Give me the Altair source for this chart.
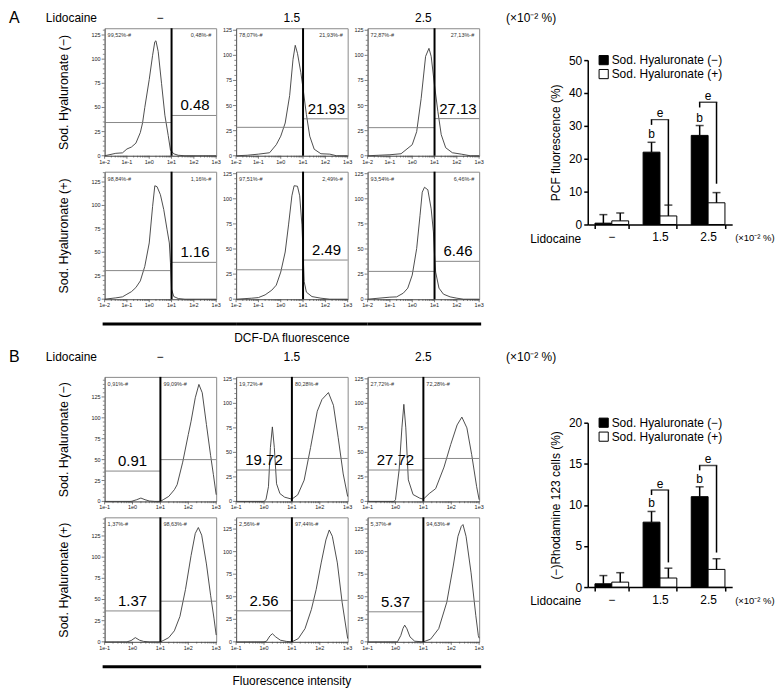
import math
import altair as alt
import pandas as pd

FONT = "Liberation Sans"
MINUS = "\u2212"
S_NEG = "Sod. Hyaluronate (\u2212)"
S_POS = "Sod. Hyaluronate (+)"
LIDO = [MINUS, "1.5", "2.5"]
UNIT = "(\u00d710\u207b\u00b2 %)"

# ---------------- Panel A: DCF-DA histograms (x = log10 fluorescence, y = count)
A1_X = [-2.0, -1.5, -1.2, -1.0, -0.8, -0.6, -0.4, -0.3, -0.2, 0.0, 0.15, 0.25, 0.3, 0.4, 0.55, 0.7, 0.85, 0.95, 1.1, 1.3, 1.6, 2.0, 3.0]
A1_Y = [0, 2.5, 3, 7, 9, 13, 24, 34, 50, 79, 104, 118, 119, 108, 75, 42, 21, 6, 2, 0.5, 0, 0, 0]
A2_X = [-2.0, -1.5, -1.0, -0.5, -0.2, 0.0, 0.2, 0.4, 0.55, 0.65, 0.75, 0.9, 1.0, 1.15, 1.3, 1.5, 1.8, 2.2, 2.5, 3.0]
A2_Y = [0, 0.5, 1.6, 3, 11, 19.5, 32.6, 60, 96, 110, 102, 83, 67, 41, 19.5, 6.5, 2, 1.6, 0, 0]
A3_X = [-2.0, -1.5, -1.0, -0.5, 0.0, 0.2, 0.4, 0.6, 0.75, 0.85, 1.0, 1.15, 1.3, 1.5, 1.8, 2.2, 2.6, 3.0]
A3_Y = [0, 0.5, 1, 2, 11, 24, 57, 99, 107, 99, 70, 44, 21, 8, 3, 1.6, 0, 0]
A4_X = [-2.0, -1.5, -1.2, -1.0, -0.8, -0.6, -0.4, -0.2, 0.0, 0.15, 0.25, 0.35, 0.5, 0.65, 0.8, 0.9, 0.95, 1.0, 1.1, 1.3, 1.6, 3.0]
A4_Y = [0, 1.4, 2.5, 5.3, 8, 12.4, 19.5, 35, 60, 99, 121, 120, 111.5, 95.6, 74, 60, 39, 10.6, 2.8, 0.7, 0, 0]
A5_X = [-2.0, -1.3, -1.0, -0.7, -0.4, -0.2, 0.0, 0.2, 0.35, 0.5, 0.6, 0.75, 0.85, 0.95, 1.0, 1.05, 1.15, 1.4, 1.8, 2.2, 3.0]
A5_Y = [0, 1, 1.6, 4.3, 9, 14, 27, 47, 74, 103, 113, 112.5, 103, 74, 47, 17.5, 7, 2.6, 1, 0, 0]
A6_X = [-2.0, -1.0, -0.7, -0.4, -0.2, 0.0, 0.2, 0.35, 0.45, 0.55, 0.7, 0.85, 0.95, 1.0, 1.05, 1.2, 1.4, 1.7, 2.0, 2.3, 3.0]
A6_Y = [0, 2, 2.3, 6, 11, 24, 50.5, 83.5, 106.6, 111.5, 109, 90, 67, 44, 27, 11, 5, 2.3, 1, 0, 0]
A_YMAX = [132, 127, 127, 136, 127, 127]
A_GATE_LEFT = [34.4, 28.3, 28.0, 30.5, 29.3, 27.7]
A_GATE_RIGHT = [41.7, 36.8, 37.0, 39.3, 39.0, 37.7]
A_BIG = ["0.48", "21.93", "27.13", "1.16", "2.49", "6.46"]
A_PCT_LEFT = ["99,52%-#", "78,07%-#", "72,87%-#", "98,84%-#", "97,51%-#", "93,54%-#"]
A_PCT_RIGHT = ["0,48%-#", "21,93%-#", "27,13%-#", "1,16%-#", "2,49%-#", "6,46%-#"]

# ---------------- Panel B: Rhodamine 123 histograms
B1_X = [-1.0, -0.05, 0.0, 0.15, 0.3, 0.45, 0.6, 0.8, 1.0, 1.1, 1.3, 1.5, 1.6, 1.8, 2.0, 2.1, 2.25, 2.38, 2.5, 2.65, 2.8, 2.9, 3.0]
B1_Y = [0, 0, 0.5, 2, 4, 2, 0.5, 0, 0, 2, 6, 14, 20, 47, 80, 96, 124, 140, 130, 92, 55, 32, 8]
B2_X = [-1.0, 0.0, 0.07, 0.16, 0.23, 0.30, 0.37, 0.45, 0.57, 0.74, 1.0, 1.21, 1.44, 1.67, 1.91, 2.08, 2.31, 2.49, 2.66, 2.84, 3.0]
B2_Y = [0, 0, 1.7, 15, 55, 76, 55, 18, 8, 4.3, 2.3, 6.7, 21.7, 55, 92, 104, 111, 98, 65, 28, 5]
B3_X = [-1.0, -0.05, 0.0, 0.13, 0.23, 0.30, 0.37, 0.46, 0.63, 0.87, 1.0, 1.21, 1.44, 1.74, 1.98, 2.21, 2.38, 2.56, 2.73, 2.91, 3.0]
B3_Y = [0, 0, 1.7, 32, 75, 99, 75, 22, 7, 3.3, 2.3, 8, 13, 35, 58, 78, 86, 75, 48, 15, 1.7]
B4_X = [-1.0, -0.2, -0.05, 0.1, 0.25, 0.4, 0.6, 1.0, 1.1, 1.3, 1.5, 1.7, 1.9, 2.1, 2.25, 2.36, 2.48, 2.65, 2.8, 2.92, 3.0]
B4_Y = [0, 0, 1.5, 5, 2, 0.5, 0, 0, 1.5, 5, 13, 30, 62, 102, 128, 135, 126, 92, 55, 28, 8]
B5_X = [-1.0, 0.0, 0.09, 0.21, 0.30, 0.42, 0.59, 0.8, 1.0, 1.23, 1.47, 1.70, 1.87, 2.05, 2.22, 2.34, 2.45, 2.63, 2.80, 3.0]
B5_Y = [0, 0, 0.7, 6.5, 9, 5.5, 1.8, 0.5, 0, 3.6, 14.6, 36, 58, 87.5, 113, 124, 117, 87.5, 44, 3.6]
B6_X = [-1.0, 0.07, 0.19, 0.27, 0.33, 0.41, 0.52, 0.69, 1.0, 1.26, 1.55, 1.84, 2.07, 2.24, 2.36, 2.42, 2.53, 2.71, 2.88, 2.97, 3.0]
B6_Y = [0, 0, 7, 15, 18.5, 14.5, 5.5, 0.7, 0, 3, 14.6, 44, 84, 117, 128, 130, 117, 76.5, 29, 7, 4]
B_YMAX = [149, 127, 127, 147, 138, 138]
B_GATE_LEFT = [36.3, 32.0, 32.0, 36.5, 34.4, 33.3]
B_GATE_RIGHT = [50.0, 43.8, 43.8, 48.0, 46.0, 45.0]
B_BIG = ["0.91", "19.72", "27.72", "1.37", "2.56", "5.37"]
B_PCT_LEFT = ["0,91%-#", "19,72%-#", "27,72%-#", "1,37%-#", "2,56%-#", "5,37%-#"]
B_PCT_RIGHT = ["99,09%-#", "80,28%-#", "72,28%-#", "98,63%-#", "97,44%-#", "94,63%-#"]

# ---------------- Bar charts
PCF_NEG = [0.4, 22.0, 27.1]
PCF_NEG_ERR = [2.6, 3.0, 3.0]
PCF_POS = [1.1, 2.6, 6.6]
PCF_POS_ERR = [2.4, 3.3, 3.1]
PCF_B_Y = [27.6, 32.3]
PCF_BR_TOP = [31.9, 37.2]
PCF_BR_LEFT = [30.3, 35.6]
PCF_BR_RIGHT = [5.9, 12.4]
PCF_E_Y = [33.9, 39.2]

RHO_NEG = [0.4, 7.9, 11.0]
RHO_NEG_ERR = [1.0, 1.3, 1.2]
RHO_POS = [0.6, 1.1, 2.15]
RHO_POS_ERR = [1.15, 1.2, 1.3]
RHO_B_Y = [10.2, 13.1]
RHO_BR_TOP = [11.8, 14.8]
RHO_BR_LEFT = [11.2, 14.2]
RHO_BR_RIGHT = [3.0, 4.2]
RHO_E_Y = [12.6, 15.6]

GATE = 1.0
XMAX = 3
W = 112
SPC = 20
HA = 128
HB = 125
BW = 145
BH = 165
AXC = "#444"


def label(text, x, y, size=12, align="center", baseline="middle", color="black"):
    return alt.Chart(pd.DataFrame({"t": [text]})).mark_text(
        fontSize=size, align=align, baseline=baseline, color=color
    ).encode(text="t:N", x=alt.value(x), y=alt.value(y))


def hline(x0, x1, y, width):
    return alt.Chart(pd.DataFrame({"t": [0]})).mark_rule(strokeWidth=width, color="black").encode(
        x=alt.value(x0), x2=alt.value(x1), y=alt.value(y))


def hist_panel(xs, ys, xmin, ymax, lvl_l, lvl_r, big, big_left, pct_l, pct_r, H, row_title=None, extras=()):
    xscale = alt.Scale(domain=[xmin, XMAX], nice=False, zero=False)
    yscale = alt.Scale(domain=[0, ymax], nice=False)
    xmajor = list(range(xmin, XMAX + 1))
    xminor = [d + math.log10(k) for d in range(xmin, XMAX) for k in range(2, 10)]
    ymajor = list(range(0, int(ymax) + 1, 25))
    yminor = [v for v in range(5, int(ymax) + 1, 5) if v % 25]
    common = dict(labels=False, ticks=False, domainColor="#555", domainWidth=0.8, grid=False)
    xaxis = alt.Axis(title=None, **common)
    if row_title:
        yaxis = alt.Axis(title=row_title, titleFontSize=12.5, titleFontWeight="normal",
                         titleColor="black", titlePadding=34, **common)
    else:
        yaxis = alt.Axis(title=None, **common)

    curve = alt.Chart(pd.DataFrame({"lx": xs, "cnt": ys})).mark_line(
        color="#3a3a3a", strokeWidth=0.9).encode(
        x=alt.X("lx:Q", scale=xscale, axis=xaxis), y=alt.Y("cnt:Q", scale=yscale, axis=yaxis))
    xt_major = alt.Chart(pd.DataFrame({"lx": xmajor})).mark_rule(color=AXC, strokeWidth=0.7).encode(
        x=alt.X("lx:Q", scale=xscale), y=alt.value(H), y2=alt.value(H + 3))
    xt_minor = alt.Chart(pd.DataFrame({"lx": xminor})).mark_rule(color=AXC, strokeWidth=0.6).encode(
        x=alt.X("lx:Q", scale=xscale), y=alt.value(H), y2=alt.value(H + 1.8))
    xlab = alt.Chart(pd.DataFrame({"lx": xmajor, "t": [f"1e{d}" for d in xmajor]})).mark_text(
        fontSize=5.5, baseline="top", color="#222").encode(
        x=alt.X("lx:Q", scale=xscale), y=alt.value(H + 4), text="t:N")
    yt_major = alt.Chart(pd.DataFrame({"cnt": ymajor})).mark_rule(color=AXC, strokeWidth=0.7).encode(
        y=alt.Y("cnt:Q", scale=yscale), x=alt.value(0), x2=alt.value(-3))
    yt_minor = alt.Chart(pd.DataFrame({"cnt": yminor})).mark_rule(color=AXC, strokeWidth=0.6).encode(
        y=alt.Y("cnt:Q", scale=yscale), x=alt.value(0), x2=alt.value(-1.8))
    ylab = alt.Chart(pd.DataFrame({"cnt": ymajor, "t": [str(v) for v in ymajor]})).mark_text(
        fontSize=5.5, align="right", baseline="middle", color="#222").encode(
        y=alt.Y("cnt:Q", scale=yscale), x=alt.value(-4), text="t:N")
    gates = alt.Chart(pd.DataFrame({"lx": [xmin, GATE], "lx2": [GATE, XMAX], "cnt": [lvl_l, lvl_r]})).mark_rule(
        color="#7a7a7a", strokeWidth=0.9).encode(
        x=alt.X("lx:Q", scale=xscale), x2="lx2:Q", y=alt.Y("cnt:Q", scale=yscale))
    divider = alt.Chart(pd.DataFrame({"lx": [GATE]})).mark_rule(color="black", strokeWidth=2).encode(
        x=alt.X("lx:Q", scale=xscale))
    bx = (xmin + GATE) / 2 if big_left else (GATE + XMAX) / 2 + 0.05
    blvl = lvl_l if big_left else lvl_r
    bignum = alt.Chart(pd.DataFrame({"lx": [bx], "cnt": [blvl], "t": [big]})).mark_text(
        fontSize=15, baseline="bottom", dy=-2, color="black").encode(
        x=alt.X("lx:Q", scale=xscale), y=alt.Y("cnt:Q", scale=yscale), text="t:N")
    pl = label(pct_l, 3, 5, size=5.5, align="left", baseline="top", color="#333")
    if big_left:
        pr = alt.Chart(pd.DataFrame({"lx": [GATE], "t": [pct_r]})).mark_text(
            fontSize=5.5, align="left", baseline="top", dx=3, color="#333").encode(
            x=alt.X("lx:Q", scale=xscale), y=alt.value(5), text="t:N")
    else:
        pr = label(pct_r, W - 5, 5, size=5.5, align="right", baseline="top", color="#333")
    return alt.layer(curve, xt_major, xt_minor, xlab, yt_major, yt_minor, ylab, gates, divider, bignum,
                     pl, pr, *extras).properties(
        width=W, height=H, view=alt.ViewBackground(stroke="#8a8a8a", strokeWidth=1))


def hist_grid(xs_list, ys_list, xmin, ymaxs, gl, gr, bigs, big_left, pls, prs, H, letter, hdr, footer):
    panels = []
    for i in range(6):
        extras = []
        if i == 0:
            extras += [label(letter, -96, hdr, 16, align="left"), label("Lidocaine", -59, hdr, 12, align="left"),
                       label(LIDO[0], W / 2, hdr, 12)]
        if i == 1:
            extras += [label(LIDO[1], W / 2, hdr, 12)]
        if i == 2:
            extras += [label(LIDO[2], W / 2, hdr, 12)]
        if i == 3:
            extras += [hline(-2, W + SPC, H + 25, 3)]
        if i == 4:
            extras += [hline(0, W + SPC, H + 25, 3), label(footer, W / 2, H + 39, 12)]
        if i == 5:
            extras += [hline(0, W + 2, H + 25, 3)]
        row_title = S_NEG if i == 0 else (S_POS if i == 3 else None)
        panels.append(hist_panel(xs_list[i], ys_list[i], xmin, ymaxs[i], gl[i], gr[i], bigs[i], big_left,
                                 pls[i], prs[i], H, row_title, extras))
    return alt.concat(*panels, columns=3, spacing={"row": 16, "column": SPC}, bounds="flush")


def bar_panel(neg, neg_err, pos, pos_err, b_y, br_top, br_left, br_right, e_y, ymax, ystep, ytitle, hdr, gap):
    df = pd.DataFrame({"lido": LIDO + LIDO, "grp": [S_NEG] * 3 + [S_POS] * 3,
                       "val": neg + pos, "err": neg_err + pos_err})
    df["top"] = df["val"] + df["err"]
    xscale = alt.Scale(domain=LIDO, paddingInner=0.3, paddingOuter=0.15)
    oscale = alt.Scale(domain=[S_NEG, S_POS], paddingInner=0, paddingOuter=0)
    yscale = alt.Scale(domain=[0, ymax], nice=False)
    yticks = list(range(0, ymax + 1, ystep))
    xaxis = alt.Axis(labelAngle=0, labelFontSize=12, labelPadding=3, tickBand="extent", tickSize=4,
                     tickWidth=1.5, tickColor="black", domainColor="black", domainWidth=1.5,
                     labelColor="black", labelOverlap=False, title="Lidocaine", titleFontSize=12,
                     titleFontWeight="normal", titleX=-7, titleY=14, titleAlign="right",
                     titleBaseline="middle", titleColor="black")
    yaxis = alt.Axis(values=yticks, tickCount=len(yticks), labelFontSize=12, tickSize=4, tickWidth=1.5,
                     tickColor="black", domainColor="black", domainWidth=1.5, grid=False, labelColor="black",
                     labelOverlap=False, title=ytitle, titleFontSize=12, titleFontWeight="normal",
                     titlePadding=6, titleColor="black", labelPadding=2)
    xo = alt.XOffset("grp:N", scale=oscale)
    xn = alt.X("lido:N", scale=xscale)
    bars = alt.Chart(df).mark_bar(stroke="black", strokeWidth=1).encode(
        x=alt.X("lido:N", scale=xscale, axis=xaxis), xOffset=xo,
        y=alt.Y("val:Q", scale=yscale, axis=yaxis),
        fill=alt.Fill("grp:N", scale=alt.Scale(domain=[S_NEG, S_POS], range=["black", "white"]),
                      legend=alt.Legend(orient="none", legendX=10, legendY=-6, title=None,
                                        symbolType="square", symbolSize=85, symbolStrokeColor="black",
                                        symbolStrokeWidth=1, labelFontSize=12, rowPadding=0,
                                        labelOffset=2, labelColor="black")))
    errs = alt.Chart(df).mark_rule(color="black", strokeWidth=1.5).encode(
        x=xn, xOffset=xo, y=alt.Y("val:Q", scale=yscale), y2="top:Q")
    caps = alt.Chart(df).mark_tick(color="black", thickness=1.5, size=8).encode(
        x=xn, xOffset=xo, y=alt.Y("top:Q", scale=yscale))
    sig = LIDO[1:]
    legs = pd.DataFrame({"lido": sig + sig, "grp": [S_NEG] * 2 + [S_POS] * 2,
                         "y1": br_left + br_right, "y2": br_top + br_top})
    leg_marks = alt.Chart(legs).mark_rule(color="black", strokeWidth=1.5).encode(
        x=xn, xOffset=xo, y=alt.Y("y1:Q", scale=yscale), y2="y2:Q")
    sub = BW / 3 * 0.7 / 2
    tops = alt.Chart(pd.DataFrame({"lido": sig, "y": br_top})).mark_tick(
        color="black", thickness=1.5, size=sub + 1.5).encode(x=xn, y=alt.Y("y:Q", scale=yscale))
    bl = alt.Chart(pd.DataFrame({"lido": sig, "grp": [S_NEG] * 2, "y": b_y, "t": ["b", "b"]})).mark_text(
        fontSize=12, color="black").encode(x=xn, xOffset=xo, y=alt.Y("y:Q", scale=yscale), text="t:N")
    el = alt.Chart(pd.DataFrame({"lido": sig, "y": e_y, "t": ["e", "e"]})).mark_text(
        fontSize=12, color="black").encode(x=xn, y=alt.Y("y:Q", scale=yscale), text="t:N")
    tail = label(UNIT, BW + 3, BH + 14, 9.5, align="left")
    plot = alt.layer(bars, errs, caps, leg_marks, tops, bl, el, tail).properties(
        width=BW, height=BH, view=alt.ViewBackground(stroke="transparent"))
    spacer = alt.layer(label(UNIT, -82, hdr, 12, align="left")).properties(
        width=BW, height=20, view=alt.ViewBackground(stroke="transparent"))
    return alt.vconcat(spacer, plot, spacing=gap, bounds="flush").resolve_scale(
        fill="independent").resolve_legend(fill="independent")


gridA = hist_grid([A1_X, A2_X, A3_X, A4_X, A5_X, A6_X], [A1_Y, A2_Y, A3_Y, A4_Y, A5_Y, A6_Y], -2, A_YMAX,
                  A_GATE_LEFT, A_GATE_RIGHT, A_BIG, False, A_PCT_LEFT, A_PCT_RIGHT, HA, "A", -10,
                  "DCF-DA fluorescence")
gridB = hist_grid([B1_X, B2_X, B3_X, B4_X, B5_X, B6_X], [B1_Y, B2_Y, B3_Y, B4_Y, B5_Y, B6_Y], -1, B_YMAX,
                  B_GATE_LEFT, B_GATE_RIGHT, B_BIG, True, B_PCT_LEFT, B_PCT_RIGHT, HB, "B", -20,
                  "Fluorescence intensity")
barA = bar_panel(PCF_NEG, PCF_NEG_ERR, PCF_POS, PCF_POS_ERR, PCF_B_Y, PCF_BR_TOP, PCF_BR_LEFT, PCF_BR_RIGHT,
                 PCF_E_Y, 50, 10, "PCF fluorescence (%)", -10, 12)
barB = bar_panel(RHO_NEG, RHO_NEG_ERR, RHO_POS, RHO_POS_ERR, RHO_B_Y, RHO_BR_TOP, RHO_BR_LEFT, RHO_BR_RIGHT,
                 RHO_E_Y, 20, 5, "(\u2212)Rhodamine 123 cells (%)", -20, 26)

rowA = alt.hconcat(gridA, barA, spacing=20).resolve_scale(fill="independent").resolve_legend(fill="independent")
rowB = alt.hconcat(gridB, barB, spacing=20).resolve_scale(fill="independent").resolve_legend(fill="independent")
chart = alt.vconcat(rowA, rowB, spacing=3).resolve_scale(fill="independent").resolve_legend(
    fill="independent").properties(padding=0).configure(font=FONT).configure_view(stroke="transparent")

chart.save("out.html", embed_options={"renderer": "svg", "actions": False})
